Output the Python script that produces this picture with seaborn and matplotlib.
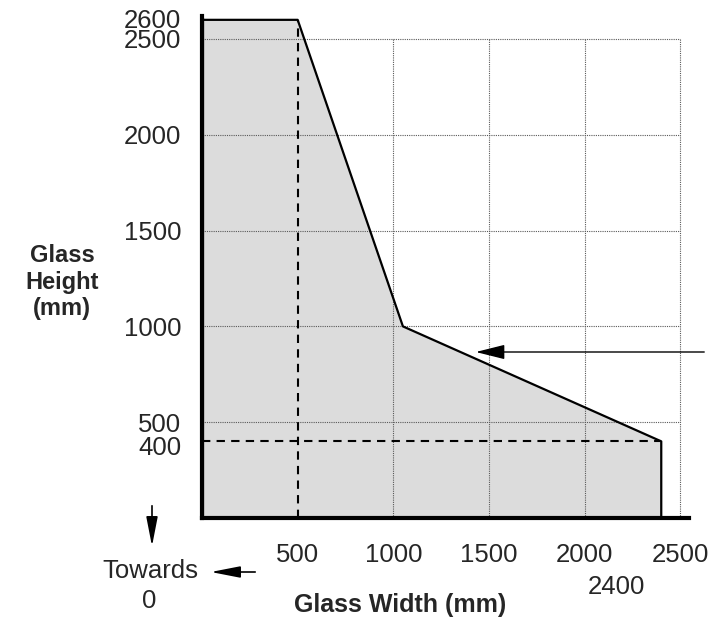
import matplotlib
matplotlib.use("Agg")
import matplotlib.pyplot as plt
import matplotlib.transforms as mtransforms
import seaborn as sns
import pandas as pd

# outline of the allowed glass sizes (mm)
width_mm = [0, 0, 500, 1050, 2400, 2400]
height_mm = [0, 2600, 2600, 1000, 400, 0]

x_ticks = [500, 1000, 1500, 2000, 2500]
y_ticks = [400, 500, 1000, 1500, 2000, 2500, 2600]
grid_x = [1000, 1500, 2000, 2500]
grid_y = [500, 1000, 1500, 2000, 2500]
grid_max = 2500

sns.set_style("white")
plt.rcParams["font.family"] = ["Liberation Sans", "DejaVu Sans"]

fig = plt.figure(figsize=(7.12, 6.17), dpi=100)
ax = fig.add_axes([202 / 712, 99 / 617, 487 / 712, 502 / 617])

df = pd.DataFrame({"width": width_mm, "height": height_mm})

# grey area
ax.fill(df["width"], df["height"], color="#dcdcdc", lw=0, zorder=1)

# dotted grid only inside 0..2500
ax.hlines(grid_y, 0, grid_max, colors="0.35", lw=0.8, linestyles=(0, (1, 1)), zorder=2)
ax.vlines(grid_x, 0, grid_max, colors="0.35", lw=0.8, linestyles=(0, (1, 1)), zorder=2)

# dashed reference lines
ax.hlines(400, 0, 2400, colors="black", lw=1.5, linestyles=(0, (4, 3)), zorder=3)
ax.vlines(500, 0, 2600, colors="black", lw=1.5, linestyles=(0, (4, 3)), zorder=3)

# outline
sns.lineplot(data=df.iloc[1:], x="width", y="height", sort=False, estimator=None,
             color="black", lw=1.6, ax=ax, zorder=4)
ax.plot([0, 0], [0, 2600], color="black", lw=3, solid_capstyle="projecting", zorder=5)

ax.set_xlim(0, 2545)
ax.set_ylim(0, 2620)
ax.set_xticks(x_ticks)
ax.set_yticks(y_ticks)
ax.tick_params(axis="both", length=0, labelsize=18.5)
ax.tick_params(axis="x", pad=18)
ax.tick_params(axis="y", pad=15)
ax.set_xlabel("")
ax.set_ylabel("")

# nudge the crowded labels apart a little
for lab in ax.get_yticklabels():
    if lab.get_text() == "400":
        lab.set_transform(lab.get_transform() +
                          mtransforms.ScaledTranslation(0, -3 / 72, fig.dpi_scale_trans))
    if lab.get_text() == "2600":
        lab.set_transform(lab.get_transform() +
                          mtransforms.ScaledTranslation(0, 1 / 72, fig.dpi_scale_trans))

sns.despine(ax=ax)
ax.spines["left"].set_linewidth(3)
ax.spines["bottom"].set_linewidth(3)
ax.spines["left"].set_color("black")
ax.spines["bottom"].set_color("black")

# extra 2400 label under the axis
ax.annotate("2400", xy=(2400, 0), xytext=(-32, -50), textcoords="offset points",
            ha="center", va="center", fontsize=18.5)

# axis titles
fig.text(62 / 712, 1 - 282 / 617, "Glass\nHeight\n(mm)", ha="center", va="center",
         fontsize=17, fontweight="bold", linespacing=1.2)
fig.text(400 / 712, 1 - 605 / 617, "Glass Width (mm)", ha="center", va="center",
         fontsize=18, fontweight="bold")

# "Towards 0" note with arrows
fig.text(150 / 712, 1 - 571 / 617, "Towards", ha="center", va="center", fontsize=18.5)
fig.text(149 / 712, 1 - 601 / 617, "0", ha="center", va="center", fontsize=18.5)
arrow = dict(arrowstyle="-|>,head_length=1.8,head_width=0.35", color="black", lw=1.2)
ax.annotate("", xy=(208, 617 - 572), xycoords="figure pixels",
            xytext=(258, 617 - 572), textcoords="figure pixels", arrowprops=arrow)
ax.annotate("", xy=(152, 617 - 549), xycoords="figure pixels",
            xytext=(152, 617 - 503), textcoords="figure pixels", arrowprops=arrow)

# arrow pointing at the sloped edge
ax.annotate("", xy=(473, 617 - 352), xycoords="figure pixels",
            xytext=(707, 617 - 352), textcoords="figure pixels",
            arrowprops=dict(arrowstyle="-|>,head_length=1.8,head_width=0.45",
                            color="black", lw=1.0))

fig.savefig("out.png", dpi=100)
